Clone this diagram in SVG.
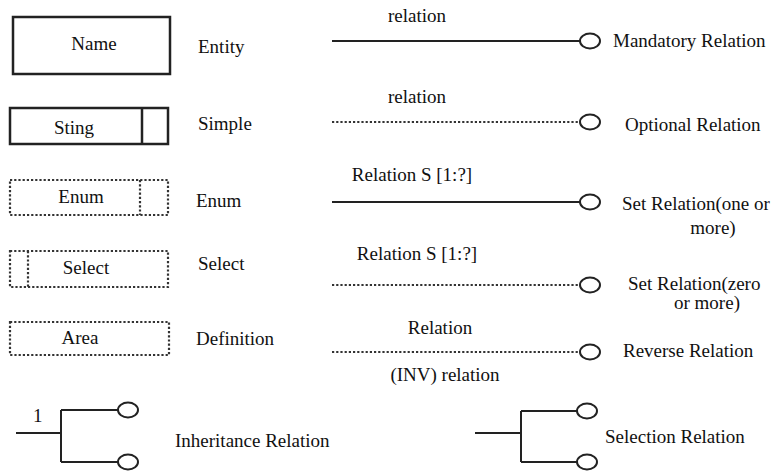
<svg xmlns="http://www.w3.org/2000/svg" width="772" height="473" viewBox="0 0 772 473">
<defs>
<ellipse id="circ" rx="10" ry="7.5" fill="#fff" stroke="#222" stroke-width="2"/>
</defs>
<rect width="772" height="473" fill="#fff"/>
<g font-family="Liberation Serif, serif" font-size="19" fill="#111">
<g id="entity">
<rect x="13" y="17" width="157" height="57" fill="#fff" stroke="#222" stroke-width="2.5"/>
<text x="94" y="50" text-anchor="middle">Name</text>
<text x="198" y="53">Entity</text>
</g>
<g id="simple">
<rect x="10" y="108" width="158" height="36" fill="#fff" stroke="#222" stroke-width="2.5"/>
<line x1="142" y1="108" x2="142" y2="144" stroke="#222" stroke-width="2.5"/>
<text x="74" y="134" text-anchor="middle">Sting</text>
<text x="198" y="130">Simple</text>
</g>
<g id="enum">
<rect x="10" y="180" width="158" height="35" fill="#fff" stroke="#333" stroke-width="2.2" stroke-dasharray="2.2 2"/>
<line x1="140" y1="180" x2="140" y2="215" stroke="#333" stroke-width="2.2" stroke-dasharray="2.2 2"/>
<text x="81" y="203" text-anchor="middle">Enum</text>
<text x="196" y="207">Enum</text>
</g>
<g id="select">
<rect x="10" y="251" width="158" height="36" fill="#fff" stroke="#333" stroke-width="2.2" stroke-dasharray="2.2 2"/>
<line x1="28" y1="251" x2="28" y2="287" stroke="#333" stroke-width="2.2" stroke-dasharray="2.2 2"/>
<text x="86" y="274" text-anchor="middle">Select</text>
<text x="198" y="270">Select</text>
</g>
<g id="area">
<rect x="10" y="322" width="159" height="33" fill="#fff" stroke="#333" stroke-width="2.2" stroke-dasharray="2.2 2"/>
<text x="80" y="344" text-anchor="middle">Area</text>
<text x="196" y="345">Definition</text>
</g>
<g id="connectors" fill="none" stroke="#222" stroke-width="2">
<line x1="332" y1="41" x2="580" y2="41"/>
<line x1="332" y1="122" x2="580" y2="122" stroke="#333" stroke-dasharray="2.2 2"/>
<line x1="332" y1="202" x2="580" y2="202"/>
<line x1="332" y1="285" x2="580" y2="285" stroke="#333" stroke-dasharray="2.2 2"/>
<line x1="332" y1="352" x2="580" y2="352" stroke="#333" stroke-dasharray="2.2 2"/>
<path d="M16 433H61M61 410V462M61 410H118M61 462H118"/>
<path d="M475 433H521M521 411V462M521 411H577M521 462H577"/>
</g>
<g id="mandatory">
<use href="#circ" x="590" y="41"/>
<text x="417" y="22" text-anchor="middle">relation</text>
<text x="613" y="47">Mandatory Relation</text>
</g>
<g id="optional">
<use href="#circ" x="590" y="122"/>
<text x="417" y="103" text-anchor="middle">relation</text>
<text x="625" y="131">Optional Relation</text>
</g>
<g id="set-one">
<use href="#circ" x="590" y="202"/>
<text x="412" y="181" text-anchor="middle">Relation S [1:?]</text>
<text x="622" y="210">Set Relation(one or</text>
<text x="713" y="234" text-anchor="middle">more)</text>
</g>
<g id="set-zero">
<use href="#circ" x="590" y="285"/>
<text x="417" y="260" text-anchor="middle">Relation S [1:?]</text>
<text x="628" y="290">Set Relation(zero</text>
<text x="707" y="309" text-anchor="middle">or more)</text>
</g>
<g id="reverse">
<use href="#circ" x="590" y="352"/>
<text x="440" y="334" text-anchor="middle">Relation</text>
<text x="623" y="357">Reverse Relation</text>
<text x="445" y="381" text-anchor="middle">(INV) relation</text>
</g>
<g id="inheritance">
<use href="#circ" x="128" y="410"/>
<use href="#circ" x="128" y="462"/>
<text x="33" y="422">1</text>
<text x="175" y="447">Inheritance Relation</text>
</g>
<g id="selection">
<use href="#circ" x="587" y="411"/>
<use href="#circ" x="587" y="462"/>
<text x="605" y="443">Selection Relation</text>
</g>
</g>
</svg>
